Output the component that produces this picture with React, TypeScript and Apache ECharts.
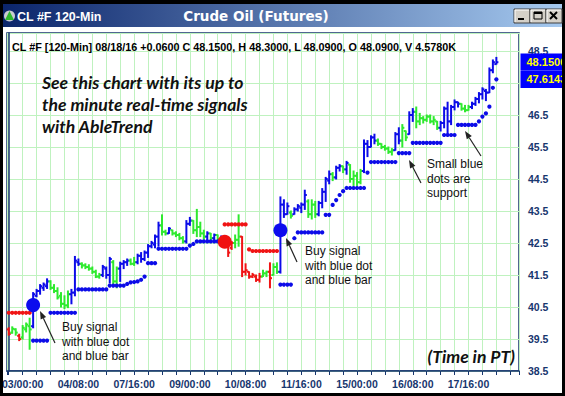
import React, { useEffect, useRef } from 'react';
import * as echarts from 'echarts';

// ---------- data ----------
const timeLabels = ['03/00:00', '04/08:00', '07/16:00', '09/00:00', '10/08:00', '11/16:00', '15/00:00', '16/08:00', '17/16:00'];
const firstLabelBar = 4;
const barsPerLabel = 16;
const barsPerTick = 4;
const totalSlots = 147;

// b = blue (up trend), g = green (pause), r = red (down trend)
const barColor = (
  'rggrgggbbb' + 'bbggggggbb' + 'bggggggbbb' + 'ggbbbggbbb' + 'bbbbggbggg' +
  'gbbggggbgb' + 'gbrrrggrrr' + 'rrrggrggbb' + 'bgbbbbgggb' + 'bbbgbbgbgg' +
  'ggbbbbgggg' + 'gbbggbbggg' + 'ggggbbbbbb' + 'gggbbbbbbb' + 'b'
).split('');

const barOpen = [
  39.80, 39.70, 39.80, 39.60, 39.55, 39.80, 39.90, 39.90, 40.85, 41.00,
  41.10, 41.15, 41.30, 41.10, 41.00, 40.85, 40.60, 40.55, 40.90, 40.95,
  41.90, 41.85, 41.80, 41.75, 41.70, 41.60, 41.45, 41.50, 41.70, 41.50,
  41.90, 41.30, 41.70, 41.85, 41.90, 41.95, 41.85, 41.90, 42.10, 42.00,
  42.20, 42.40, 42.45, 42.70, 43.05, 42.85, 42.80, 42.90, 42.80, 42.75,
  42.65, 42.55, 43.10, 43.20, 42.90, 43.00, 42.80, 42.70, 42.80, 42.65,
  42.75, 42.62, 42.65, 42.50, 42.35, 42.50, 42.60, 42.70, 41.60, 41.60,
  41.45, 41.45, 41.35, 41.45, 41.55, 41.60, 41.50, 41.75, 41.60, 43.70,
  43.40, 43.45, 43.40, 43.55, 43.60, 43.70, 43.80, 43.40, 43.70, 43.40,
  43.75, 44.10, 44.45, 44.65, 44.55, 44.85, 44.90, 44.80, 44.95, 44.50,
  44.60, 44.40, 44.75, 45.60, 45.50, 45.80, 45.70, 45.60, 45.50, 45.45,
  45.35, 45.40, 45.90, 45.70, 46.00, 45.90, 46.50, 46.60, 46.30, 46.40,
  46.35, 46.45, 46.30, 46.30, 46.10, 46.25, 46.70, 46.30, 46.75, 46.90,
  46.85, 46.70, 46.65, 46.75, 46.85, 47.00, 47.15, 47.25, 47.20, 47.90,
  48.09,
];
const barHigh = [
  39.85, 39.88, 39.82, 39.65, 39.92, 40.00, 40.15, 40.95, 41.05, 41.20,
  41.25, 41.38, 41.32, 41.20, 41.10, 40.95, 40.85, 41.00, 41.05, 42.08,
  42.00, 41.88, 41.85, 41.82, 41.75, 41.65, 41.55, 41.80, 41.75, 42.05,
  41.95, 41.75, 41.90, 41.95, 42.00, 42.00, 42.05, 42.15, 42.20, 42.25,
  42.45, 42.55, 42.75, 43.15, 43.38, 42.90, 42.98, 42.90, 42.85, 42.80,
  42.70, 43.20, 43.30, 43.20, 43.55, 43.15, 42.90, 42.85, 42.80, 42.78,
  42.75, 42.72, 42.65, 42.50, 42.55, 42.75, 43.38, 42.70, 41.85, 41.60,
  41.55, 41.50, 41.55, 41.65, 41.62, 41.88, 41.85, 41.88, 43.94, 43.85,
  43.75, 43.50, 43.60, 43.70, 43.75, 44.15, 43.85, 43.85, 43.80, 43.80,
  44.20, 44.55, 44.75, 44.70, 44.90, 44.95, 44.90, 45.05, 44.95, 44.75,
  44.70, 44.80, 45.72, 45.70, 45.85, 45.90, 45.75, 45.60, 45.55, 45.50,
  45.45, 45.95, 46.10, 46.20, 46.00, 46.60, 46.70, 46.75, 46.55, 46.45,
  46.50, 46.50, 46.45, 46.30, 46.30, 46.75, 46.90, 46.80, 46.97, 46.90,
  46.85, 46.80, 46.80, 46.90, 47.05, 47.20, 47.35, 47.30, 47.97, 48.22,
  48.30,
];
const barLow = [
  39.62, 39.68, 39.62, 39.45, 39.50, 39.72, 39.18, 39.85, 40.82, 40.90,
  41.02, 41.08, 41.05, 40.95, 40.75, 40.50, 40.45, 40.48, 40.60, 40.85,
  41.80, 41.72, 41.70, 41.65, 41.55, 41.42, 41.40, 41.45, 41.40, 41.25,
  41.20, 41.10, 41.30, 41.70, 41.80, 41.82, 41.80, 41.85, 41.90, 41.95,
  42.05, 42.35, 42.35, 42.40, 42.75, 42.75, 42.80, 42.75, 42.70, 42.60,
  42.50, 42.50, 43.05, 42.80, 42.70, 42.70, 42.62, 42.60, 42.60, 42.60,
  42.58, 42.55, 42.45, 42.08, 42.30, 42.35, 42.40, 41.45, 41.50, 41.40,
  41.42, 41.30, 41.28, 41.45, 41.45, 41.10, 41.50, 41.55, 41.56, 43.30,
  43.40, 43.28, 43.40, 43.50, 43.45, 43.55, 43.30, 43.25, 43.30, 43.35,
  43.60, 43.80, 44.35, 44.45, 44.50, 44.75, 44.70, 44.65, 44.40, 44.30,
  44.30, 44.35, 44.70, 45.20, 45.50, 45.60, 45.55, 45.45, 45.40, 45.30,
  45.25, 45.40, 45.60, 45.50, 45.70, 45.90, 46.30, 46.10, 46.20, 46.25,
  46.30, 46.25, 46.20, 46.05, 46.00, 46.10, 45.90, 46.20, 46.66, 46.75,
  46.65, 46.60, 46.65, 46.70, 46.80, 46.88, 47.00, 46.95, 47.20, 47.82,
  48.09,
];
const barClose = [
  39.66, 39.82, 39.70, 39.50, 39.85, 39.95, 39.80, 40.90, 41.00, 41.15,
  41.20, 41.30, 41.10, 41.00, 40.80, 40.60, 40.55, 40.90, 40.95, 41.95,
  41.85, 41.80, 41.75, 41.70, 41.60, 41.45, 41.50, 41.75, 41.50, 42.00,
  41.30, 41.70, 41.85, 41.90, 41.95, 41.85, 41.90, 42.10, 42.00, 42.20,
  42.40, 42.50, 42.70, 43.05, 42.85, 42.80, 42.95, 42.80, 42.75, 42.65,
  42.55, 43.10, 43.20, 42.90, 43.00, 42.80, 42.70, 42.80, 42.65, 42.75,
  42.62, 42.68, 42.50, 42.20, 42.50, 42.60, 42.70, 41.60, 41.65, 41.45,
  41.50, 41.35, 41.45, 41.55, 41.60, 41.40, 41.75, 41.60, 43.70, 43.40,
  43.65, 43.35, 43.55, 43.65, 43.70, 44.00, 43.40, 43.70, 43.40, 43.75,
  44.10, 44.50, 44.65, 44.55, 44.85, 44.90, 44.80, 45.00, 44.50, 44.60,
  44.40, 44.75, 45.60, 45.50, 45.80, 45.70, 45.60, 45.50, 45.45, 45.35,
  45.40, 45.90, 45.70, 46.10, 45.80, 46.50, 46.60, 46.30, 46.40, 46.35,
  46.45, 46.30, 46.35, 46.10, 46.25, 46.70, 46.30, 46.75, 46.90, 46.85,
  46.70, 46.65, 46.75, 46.85, 47.00, 47.15, 47.30, 47.20, 47.90, 48.15,
  48.15,
];

// small blue dots = support
const supportDots = [
  null, null, null, null, null, null, null, 39.45, 39.45, 39.45,
  39.45, 39.45, 40.32, 40.32, 40.32, 40.32, 40.32, 40.32, 40.32, 40.32,
  41.05, 41.05, 41.05, 41.05, 41.05, 41.05, 41.05, 41.05, 41.05, 41.17,
  41.17, 41.17, 41.17, 41.17, 41.22, 41.27, 41.28, 41.30, 41.35, 41.45,
  41.87, 41.87, 41.87, 42.32, 42.32, 42.32, 42.32, 42.32, 42.32, 42.32,
  42.32, 42.32, 42.42, 42.47, 42.55, 42.55, 42.55, 42.55, 42.55, 42.55,
  42.55, 42.55, null, null, null, null, null, null, null, null,
  null, null, null, null, null, null, null, null, 41.20, 41.20,
  41.20, 41.20, 42.65, 42.83, 42.83, 42.83, 42.83, 42.83, 42.83, 42.83,
  42.83, 43.38, 43.38, 43.69, 43.84, 44.00, 44.12, 44.22, 44.22, 44.22,
  44.22, 44.22, 44.22, 44.70, 45.03, 45.03, 45.03, 45.03, 45.03, 45.03,
  45.03, 45.03, 45.31, 45.31, 45.31, 45.31, 45.63, 45.63, 45.63, 45.63,
  45.63, 45.63, 45.63, 45.63, 45.63, 45.875, 45.875, 45.875, 45.875, 46.19,
  46.19, 46.19, 46.19, 46.19, 46.19, 46.30, 46.45, 46.55, 46.76, 47.35,
  47.6143,
];
// small red dots = resistance
const resistanceDots = [
  40.32, 40.32, 40.32, 40.32, 40.32, 40.32, 40.32, null, null, null,
  null, null, null, null, null, null, null, null, null, null,
  null, null, null, null, null, null, null, null, null, null,
  null, null, null, null, null, null, null, null, null, null,
  null, null, null, null, null, null, null, null, null, null,
  null, null, null, null, null, null, null, null, null, null,
  null, null, 43.08, 43.08, 43.08, 43.08, 43.08, 43.08, 43.08, 42.30,
  42.25, 42.25, 42.25, 42.25, 42.25, 42.25, 42.25, 42.25, null, null,
];

// big dots = signals
const signalBars = [7, 62, 78];
const signalPrices = [40.56, 42.54, 42.90];
const signalKinds = ['buy', 'sell', 'buy'];

const headerText = 'CL #F [120-Min] 08/18/16 +0.0600 C 48.1500, H 48.3000, L 48.0900, O 48.0900, V 4.5780K';

// ---------- styles ----------
const NAVY = '#17366E';
const GRID_GREEN = '#BFF2BF';
const COLORS: Record<string, string> = { b: '#0C0CE8', g: '#2EEA2E', r: '#F01414' };
const ARIAL = '"Liberation Sans", Arial, sans-serif';
const PROMO = 'Lato, "Open Sans", sans-serif';

function arrow(x1: number, y1: number, x2: number, y2: number) {
  const ang = Math.atan2(y2 - y1, x2 - x1);
  const len = 8;
  const half = 3;
  const bx = x2 - len * Math.cos(ang);
  const by = y2 - len * Math.sin(ang);
  const px = -Math.sin(ang) * half;
  const py = Math.cos(ang) * half;
  return [
    { type: 'line', z: 60, shape: { x1, y1, x2: bx, y2: by }, style: { stroke: '#222', lineWidth: 1.2 } },
    { type: 'polygon', z: 60, shape: { points: [[x2, y2], [bx + px, by + py], [bx - px, by - py]] }, style: { fill: '#222' } },
  ];
}

function txt(x: number, y: number, text: string, extra: any = {}) {
  return {
    type: 'text', z: 60, x, y,
    style: { text, fill: '#111', fontSize: 12, fontFamily: ARIAL, align: 'left', verticalAlign: 'middle', ...extra },
  };
}

function button(x: number, kind: string) {
  const y = 9;
  const w = 16;
  const h = 14;
  const els: any[] = [
    { type: 'rect', z: 101, shape: { x, y, width: w, height: h }, style: { fill: '#D4D0C8', stroke: '#404040', lineWidth: 1 } },
    { type: 'polyline', z: 102, shape: { points: [[x + 1, y + h - 1], [x + 1, y + 1], [x + w - 1, y + 1]] }, style: { stroke: '#FFFFFF', lineWidth: 1, fill: null } },
  ];
  if (kind === 'min') {
    els.push({ type: 'rect', z: 102, shape: { x: x + 4, y: y + 9, width: 6, height: 2 }, style: { fill: '#000' } });
  } else if (kind === 'max') {
    els.push({ type: 'rect', z: 102, shape: { x: x + 4, y: y + 3, width: 8, height: 7 }, style: { fill: null, stroke: '#000', lineWidth: 1 } });
    els.push({ type: 'rect', z: 102, shape: { x: x + 4, y: y + 3, width: 8, height: 2 }, style: { fill: '#000' } });
  } else {
    els.push({ type: 'line', z: 102, shape: { x1: x + 4, y1: y + 3, x2: x + 11, y2: y + 10 }, style: { stroke: '#000', lineWidth: 2 } });
    els.push({ type: 'line', z: 102, shape: { x1: x + 11, y1: y + 3, x2: x + 4, y2: y + 10 }, style: { stroke: '#000', lineWidth: 2 } });
  }
  return els;
}

export default function App() {
  const ref = useRef<HTMLDivElement>(null);

  useEffect(() => {
    if (!ref.current) return;
    const chart = echarts.init(ref.current, null, { renderer: 'svg', width: 565, height: 396 });

    const bars = barOpen.map((o, i) => [i, o, barHigh[i], barLow[i], barClose[i]]);
    const support: any[] = [];
    supportDots.forEach((v, i) => { if (v != null) support.push([i, v]); });
    const resist: any[] = [];
    resistanceDots.forEach((v, i) => { if (v != null) resist.push([i, v]); });
    const signals = signalBars.map((b, k) => ({
      value: [b, signalPrices[k]],
      itemStyle: { color: signalKinds[k] === 'buy' ? '#0C0CEE' : '#F01010', opacity: 1 },
    }));
    const last = barClose.length - 1;
    const readouts = [barClose[last], supportDots[last] as number];
    const readLo = Math.min(...readouts) - 0.3;
    const readHi = Math.max(...readouts) + 0.3;

    const graphic: any[] = [
      // window chrome
      { type: 'rect', z: 100, shape: { x: 0, y: 0, width: 565, height: 4 }, style: { fill: '#000' } },
      {
        type: 'rect', z: 100, shape: { x: 0, y: 4, width: 565, height: 23 },
        style: {
          fill: new echarts.graphic.LinearGradient(0, 0, 1, 0, [
            { offset: 0, color: '#0A246A' },
            { offset: 1, color: '#A6CAF0' },
          ]),
        },
      },
      { type: 'rect', z: 100, shape: { x: 0, y: 0, width: 3, height: 396 }, style: { fill: '#000' } },
      { type: 'rect', z: 100, shape: { x: 562, y: 0, width: 3, height: 396 }, style: { fill: '#000' } },
      { type: 'rect', z: 100, shape: { x: 0, y: 393, width: 565, height: 3 }, style: { fill: '#000' } },
      { type: 'circle', z: 101, shape: { cx: 9.5, cy: 16, r: 5.5 }, style: { fill: '#C8CCD0' } },
      { type: 'polygon', z: 102, shape: { points: [[9.5, 11], [14, 20], [5, 20]] }, style: { fill: '#2DB82D' } },
      {
        type: 'text', z: 101, x: 17, y: 16.5,
        style: { text: 'CL #F 120-Min', fill: '#FFFFFF', fontSize: 12.5, fontWeight: 'bold', fontFamily: ARIAL, align: 'left', verticalAlign: 'middle' },
      },
      {
        type: 'text', z: 101, x: 256, y: 16,
        style: { text: 'Crude Oil (Futures)', fill: '#FFFFFF', fontSize: 13.5, fontWeight: 'bold', fontFamily: '"DejaVu Sans", Verdana, sans-serif', align: 'center', verticalAlign: 'middle' },
      },
      ...button(514, 'min'),
      ...button(530, 'max'),
      ...button(546, 'close'),
      // header line
      {
        type: 'text', z: 60, x: 12, y: 47,
        style: { text: headerText, fill: '#000', fontSize: 10.8, fontWeight: 'bold', fontFamily: ARIAL, align: 'left', verticalAlign: 'middle' },
      },
      // promo text
      txt(42, 82, 'See this chart with its up to', { fontSize: 17.6, fontWeight: 'bold', fontStyle: 'italic', fontFamily: PROMO }),
      txt(42, 104, 'the minute real-time signals', { fontSize: 17.6, fontWeight: 'bold', fontStyle: 'italic', fontFamily: PROMO }),
      txt(42, 126, 'with AbleTrend', { fontSize: 17.6, fontWeight: 'bold', fontStyle: 'italic', fontFamily: PROMO }),
      txt(515, 356, '(Time in PT)', { fontSize: 17.6, fontWeight: 'bold', fontStyle: 'italic', fontFamily: PROMO, align: 'right' }),
      // annotations
      txt(62, 327, 'Buy signal'),
      txt(62, 341.5, 'with blue dot'),
      txt(62, 356, 'and blue bar'),
      txt(305, 251, 'Buy signal'),
      txt(305, 265.5, 'with blue dot'),
      txt(305, 280, 'and blue bar'),
      txt(427, 164, 'Small blue'),
      txt(427, 178.5, 'dots are'),
      txt(427, 193, 'support'),
      ...arrow(55, 343, 40, 311),
      ...arrow(297, 262, 286, 238),
      ...arrow(421, 183, 409, 160),
      ...arrow(481, 156, 465, 131),
    ];

    const option: any = {
      animation: false,
      backgroundColor: '#FFFFFF',
      grid: {
        left: 7, right: 46, top: 33, bottom: 25,
        show: true, borderColor: NAVY, borderWidth: 1.5, backgroundColor: '#FFFFFF',
        outerBoundsMode: 'none',
      },
      xAxis: {
        type: 'value',
        min: -0.5,
        max: totalSlots - 0.5,
        minInterval: barsPerTick,
        maxInterval: barsPerTick,
        axisLine: { show: true, lineStyle: { color: NAVY, width: 1.5 } },
        axisTick: { show: true, inside: false, length: 4, lineStyle: { color: NAVY, width: 1 } },
        axisLabel: {
          color: NAVY, fontWeight: 'bold', fontSize: 10.5, fontFamily: ARIAL, margin: 7,
          formatter: (v: number) => {
            const k = (v - firstLabelBar) / barsPerLabel;
            return Number.isInteger(k) && k >= 0 && k < timeLabels.length ? timeLabels[k] : '';
          },
        },
        splitLine: { show: true, lineStyle: { color: GRID_GREEN, width: 1 } },
      },
      yAxis: {
        type: 'value',
        position: 'right',
        min: 38.5,
        max: 49.0625,
        interval: 1,
        axisLine: { show: true, lineStyle: { color: NAVY, width: 1.5 } },
        axisTick: { show: false },
        axisLabel: {
          color: NAVY, fontWeight: 'bold', fontSize: 10.5, fontFamily: ARIAL, margin: 9,
          showMaxLabel: false,
          formatter: (v: number) => (v > readLo && v < readHi ? '' : v.toFixed(1)),
        },
        splitLine: { show: true, lineStyle: { color: GRID_GREEN, width: 1 } },
      },
      series: [
        {
          type: 'custom',
          name: 'bars',
          data: bars,
          encode: { x: 0, y: [1, 2, 3, 4] },
          z: 3,
          renderItem: (params: any, api: any) => {
            const i = api.value(0);
            const pO = api.coord([i, api.value(1)]);
            const pH = api.coord([i, api.value(2)]);
            const pL = api.coord([i, api.value(3)]);
            const pC = api.coord([i, api.value(4)]);
            const w = api.size([1, 0])[0];
            const t = w * 0.5 + 0.3;
            const color = COLORS[barColor[params.dataIndex]] || COLORS.b;
            const style = { stroke: color, lineWidth: 2, fill: null };
            return {
              type: 'group',
              children: [
                { type: 'line', shape: { x1: pH[0], y1: pH[1] - 0.5, x2: pL[0], y2: pL[1] + 0.5 }, style },
                { type: 'line', shape: { x1: pO[0] - t, y1: pO[1], x2: pO[0], y2: pO[1] }, style },
                { type: 'line', shape: { x1: pC[0], y1: pC[1], x2: pC[0] + t, y2: pC[1] }, style },
              ],
            };
          },
        },
        {
          type: 'scatter',
          name: 'support',
          data: support,
          symbol: 'circle',
          symbolSize: 4.2,
          itemStyle: { color: '#0C0CE8', opacity: 1 },
          z: 4,
        },
        {
          type: 'scatter',
          name: 'resistance',
          data: resist,
          symbol: 'circle',
          symbolSize: 4.2,
          itemStyle: { color: '#F01414', opacity: 1 },
          z: 4,
        },
        {
          type: 'scatter',
          name: 'signals',
          data: signals,
          symbol: 'circle',
          symbolSize: 14,
          z: 5,
        },
        {
          type: 'line',
          name: 'readout',
          data: [],
          z: 50,
          markLine: {
            silent: true,
            symbol: ['none', 'none'],
            lineStyle: { color: 'rgba(0,0,0,0)', width: 0, type: 'solid' },
            label: {
              show: true, position: 'end', distance: 1.5,
              formatter: (p: any) => readouts[p.dataIndex].toFixed(4),
              color: '#FFFF00', backgroundColor: '#0000FF', opacity: 1,
              fontWeight: 'bold', fontSize: 11, fontFamily: ARIAL,
              lineHeight: 12, padding: [2.6, 8, 2.6, 6],
            },
            emphasis: { disabled: true },
            data: readouts.map((v) => ({ yAxis: v })),
          },
        },
      ],
      graphic,
    };

    chart.setOption(option);
    return () => chart.dispose();
  }, []);

  return <div ref={ref} style={{ position: 'absolute', left: 0, top: 0, width: 565, height: 396 }} />;
}
